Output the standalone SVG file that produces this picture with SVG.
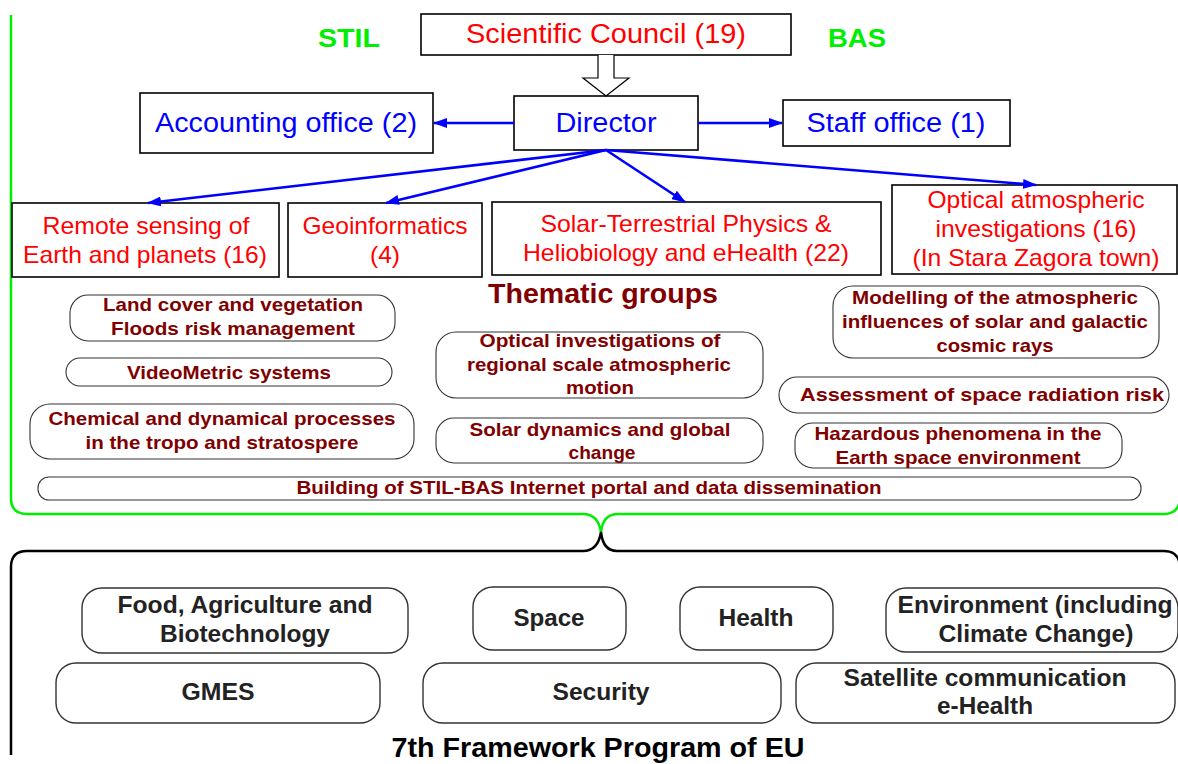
<svg xmlns="http://www.w3.org/2000/svg" width="1178" height="764" viewBox="0 0 1178 764">
  <style>
    .box { fill: #ffffff; stroke: #000000; stroke-width: 1.6; }
    .grp { fill: #ffffff; stroke: #333333; stroke-width: 1.1; }
    .fp { fill: #ffffff; stroke: #333333; stroke-width: 1.4; }
    .t-red { font-family: "Liberation Sans", Arial, sans-serif; fill: #ff0000; text-anchor: middle; }
    .t-blue { font-family: "Liberation Sans", Arial, sans-serif; fill: #0000ff; text-anchor: middle; }
    .t-green { font-family: "Liberation Sans", Arial, sans-serif; font-weight: bold; fill: #00ee00; text-anchor: middle; font-size: 26px; }
    .t-grp { font-family: "Liberation Sans", Arial, sans-serif; font-weight: bold; fill: #800000; text-anchor: middle; font-size: 19px; }
    .t-fp { font-family: "Liberation Sans", Arial, sans-serif; font-weight: bold; fill: #222222; text-anchor: middle; font-size: 23px; }
    .t-title { font-family: "Liberation Sans", Arial, sans-serif; font-weight: bold; text-anchor: middle; }
    .link { stroke: #0000ff; stroke-width: 2.6; fill: none; marker-end: url(#arrow); }
    .brace { fill: none; stroke-width: 2.5; }
  </style>
  <defs>
    <marker id="arrow" viewBox="0 0 14 10" refX="13" refY="5" markerWidth="14" markerHeight="10" markerUnits="userSpaceOnUse" orient="auto">
      <path d="M0,0 L14,5 L0,10 z" fill="#0000ff"/>
    </marker>
  </defs>

  <!-- Institute brace (green) and FP7 brace (black) -->
  <g id="braces">
    <path class="brace" stroke="#00ee00" d="M 11 15 V 498 Q 11 514 27 514 H 583 Q 598 514 601 532 Q 603 514 618 514 H 1164 Q 1178 514 1180 500"/>
    <path class="brace" stroke="#000000" d="M 11 755 V 567 Q 11 551 27 551 H 583 Q 598 551 601 532 Q 603 551 617 551 H 1164 Q 1178 551 1180 565"/>
  </g>

  <text class="t-green" x="349" y="47" textLength="62" lengthAdjust="spacingAndGlyphs">STIL</text>
  <text class="t-green" x="857" y="47" textLength="58" lengthAdjust="spacingAndGlyphs">BAS</text>

  <!-- Management -->
  <g id="council">
    <rect class="box" x="421" y="14" width="370" height="41"/>
    <text class="t-red" x="606" y="43" font-size="27" textLength="280" lengthAdjust="spacingAndGlyphs">Scientific Council (19)</text>
  </g>
  <g id="director">
    <rect class="box" x="514" y="96" width="184" height="54"/>
    <text class="t-blue" x="606" y="132" font-size="27" textLength="101" lengthAdjust="spacingAndGlyphs">Director</text>
  </g>
  <g id="accounting">
    <rect class="box" x="140" y="93" width="293" height="60"/>
    <text class="t-blue" x="286" y="132" font-size="27" textLength="262" lengthAdjust="spacingAndGlyphs">Accounting office (2)</text>
  </g>
  <g id="staff">
    <rect class="box" x="783" y="100" width="227" height="46"/>
    <text class="t-blue" x="896" y="132" font-size="27" textLength="179" lengthAdjust="spacingAndGlyphs">Staff office (1)</text>
  </g>

  <!-- Departments -->
  <g id="dept-remote">
    <rect class="box" x="12" y="203" width="267" height="74"/>
    <text class="t-red" x="146" y="234" font-size="24" textLength="207" lengthAdjust="spacingAndGlyphs">Remote sensing of</text>
    <text class="t-red" x="145" y="263" font-size="24" textLength="244" lengthAdjust="spacingAndGlyphs">Earth and planets (16)</text>
  </g>
  <g id="dept-geo">
    <rect class="box" x="288" y="203" width="194" height="74"/>
    <text class="t-red" x="385" y="234" font-size="24" textLength="165" lengthAdjust="spacingAndGlyphs">Geoinformatics</text>
    <text class="t-red" x="385" y="263" font-size="24" textLength="30" lengthAdjust="spacingAndGlyphs">(4)</text>
  </g>
  <g id="dept-solar">
    <rect class="box" x="492" y="202" width="389" height="73"/>
    <text class="t-red" x="686" y="232" font-size="24" textLength="291" lengthAdjust="spacingAndGlyphs">Solar-Terrestrial Physics &amp;</text>
    <text class="t-red" x="686" y="261" font-size="24" textLength="326" lengthAdjust="spacingAndGlyphs">Heliobiology and eHealth (22)</text>
  </g>
  <g id="dept-optical">
    <rect class="box" x="892" y="185" width="285" height="89"/>
    <text class="t-red" x="1036" y="208" font-size="24" textLength="217" lengthAdjust="spacingAndGlyphs">Optical atmospheric</text>
    <text class="t-red" x="1036" y="237" font-size="24" textLength="201" lengthAdjust="spacingAndGlyphs">investigations (16)</text>
    <text class="t-red" x="1036" y="266" font-size="24" textLength="247" lengthAdjust="spacingAndGlyphs">(In Stara Zagora town)</text>
  </g>

  <!-- Connectors -->
  <g id="connectors">
    <path d="M 598 55 V 78 H 583 L 606 96 L 629 78 H 614 V 55" fill="#ffffff" stroke="#000000" stroke-width="1.2"/>
    <line class="link" x1="514" y1="123" x2="434" y2="123"/>
    <line class="link" x1="698" y1="123" x2="782" y2="123"/>
    <line class="link" x1="606" y1="150" x2="148" y2="203"/>
    <line class="link" x1="606" y1="150" x2="386" y2="203"/>
    <line class="link" x1="606" y1="150" x2="685" y2="202"/>
    <line class="link" x1="606" y1="150" x2="1036" y2="185"/>
  </g>

  <text class="t-title" x="603" y="303" font-size="27" fill="#800000" textLength="230" lengthAdjust="spacingAndGlyphs">Thematic groups</text>

  <!-- Thematic groups -->
  <g id="grp-landcover">
    <rect class="grp" x="70" y="295" width="325" height="46" rx="18"/>
    <text class="t-grp" x="233" y="311" textLength="260" lengthAdjust="spacingAndGlyphs">Land cover and vegetation</text>
    <text class="t-grp" x="233" y="335" textLength="244" lengthAdjust="spacingAndGlyphs">Floods risk management</text>
  </g>
  <g id="grp-videometric">
    <rect class="grp" x="66" y="358" width="326" height="28" rx="14"/>
    <text class="t-grp" x="229" y="379" textLength="204" lengthAdjust="spacingAndGlyphs">VideoMetric systems</text>
  </g>
  <g id="grp-chemical">
    <rect class="grp" x="30" y="404" width="384" height="55" rx="20"/>
    <text class="t-grp" x="222" y="425" textLength="347" lengthAdjust="spacingAndGlyphs">Chemical and dynamical processes</text>
    <text class="t-grp" x="222" y="449" textLength="273" lengthAdjust="spacingAndGlyphs">in the tropo and stratospere</text>
  </g>
  <g id="grp-optical-motion">
    <rect class="grp" x="436" y="332" width="327" height="66" rx="20"/>
    <text class="t-grp" x="600" y="347" textLength="241" lengthAdjust="spacingAndGlyphs">Optical investigations of</text>
    <text class="t-grp" x="599" y="371" textLength="264" lengthAdjust="spacingAndGlyphs">regional scale atmospheric</text>
    <text class="t-grp" x="600" y="394" textLength="68" lengthAdjust="spacingAndGlyphs">motion</text>
  </g>
  <g id="grp-solar-dynamics">
    <rect class="grp" x="436" y="418" width="327" height="45" rx="18"/>
    <text class="t-grp" x="600" y="436" textLength="261" lengthAdjust="spacingAndGlyphs">Solar dynamics and global</text>
    <text class="t-grp" x="602" y="459" textLength="67" lengthAdjust="spacingAndGlyphs">change</text>
  </g>
  <g id="grp-portal">
    <rect class="grp" x="38" y="477" width="1103" height="23" rx="11"/>
    <text class="t-grp" x="589" y="494" textLength="585" lengthAdjust="spacingAndGlyphs">Building of STIL-BAS Internet portal and data dissemination</text>
  </g>
  <g id="grp-modelling">
    <rect class="grp" x="833" y="286" width="326" height="72" rx="20"/>
    <text class="t-grp" x="995" y="304" textLength="286" lengthAdjust="spacingAndGlyphs">Modelling of the atmospheric</text>
    <text class="t-grp" x="995" y="328" textLength="306" lengthAdjust="spacingAndGlyphs">influences of solar and galactic</text>
    <text class="t-grp" x="995" y="352" textLength="117" lengthAdjust="spacingAndGlyphs">cosmic rays</text>
  </g>
  <g id="grp-radiation">
    <rect class="grp" x="779" y="377" width="390" height="36" rx="18"/>
    <text class="t-grp" x="982" y="401" textLength="364" lengthAdjust="spacingAndGlyphs">Assessment of space radiation risk</text>
  </g>
  <g id="grp-hazardous">
    <rect class="grp" x="795" y="423" width="327" height="45" rx="18"/>
    <text class="t-grp" x="958" y="440" textLength="287" lengthAdjust="spacingAndGlyphs">Hazardous phenomena in the</text>
    <text class="t-grp" x="958" y="464" textLength="245" lengthAdjust="spacingAndGlyphs">Earth space environment</text>
  </g>

  <!-- FP7 themes -->
  <g id="fp-food">
    <rect class="fp" x="82" y="588" width="326" height="65" rx="20"/>
    <text class="t-fp" x="245" y="613" textLength="255" lengthAdjust="spacingAndGlyphs">Food, Agriculture and</text>
    <text class="t-fp" x="245" y="642" textLength="170" lengthAdjust="spacingAndGlyphs">Biotechnology</text>
  </g>
  <g id="fp-space">
    <rect class="fp" x="473" y="587" width="153" height="63" rx="20"/>
    <text class="t-fp" x="549" y="626" textLength="71" lengthAdjust="spacingAndGlyphs">Space</text>
  </g>
  <g id="fp-health">
    <rect class="fp" x="680" y="587" width="153" height="63" rx="20"/>
    <text class="t-fp" x="756" y="626" textLength="75" lengthAdjust="spacingAndGlyphs">Health</text>
  </g>
  <g id="fp-environment">
    <rect class="fp" x="886" y="588" width="292" height="64" rx="20"/>
    <text class="t-fp" x="1035" y="613" textLength="275" lengthAdjust="spacingAndGlyphs">Environment (including</text>
    <text class="t-fp" x="1036" y="642" textLength="195" lengthAdjust="spacingAndGlyphs">Climate Change)</text>
  </g>
  <g id="fp-gmes">
    <rect class="fp" x="56" y="663" width="324" height="60" rx="20"/>
    <text class="t-fp" x="218" y="700" textLength="73" lengthAdjust="spacingAndGlyphs">GMES</text>
  </g>
  <g id="fp-security">
    <rect class="fp" x="423" y="663" width="358" height="60" rx="20"/>
    <text class="t-fp" x="601" y="700" textLength="97" lengthAdjust="spacingAndGlyphs">Security</text>
  </g>
  <g id="fp-satellite">
    <rect class="fp" x="796" y="663" width="379" height="60" rx="20"/>
    <text class="t-fp" x="985" y="686" textLength="283" lengthAdjust="spacingAndGlyphs">Satellite communication</text>
    <text class="t-fp" x="985" y="714" textLength="96" lengthAdjust="spacingAndGlyphs">e-Health</text>
  </g>

  <text class="t-title" x="598" y="757" font-size="27" fill="#000000" textLength="413" lengthAdjust="spacingAndGlyphs">7th Framework Program of EU</text>
</svg>
